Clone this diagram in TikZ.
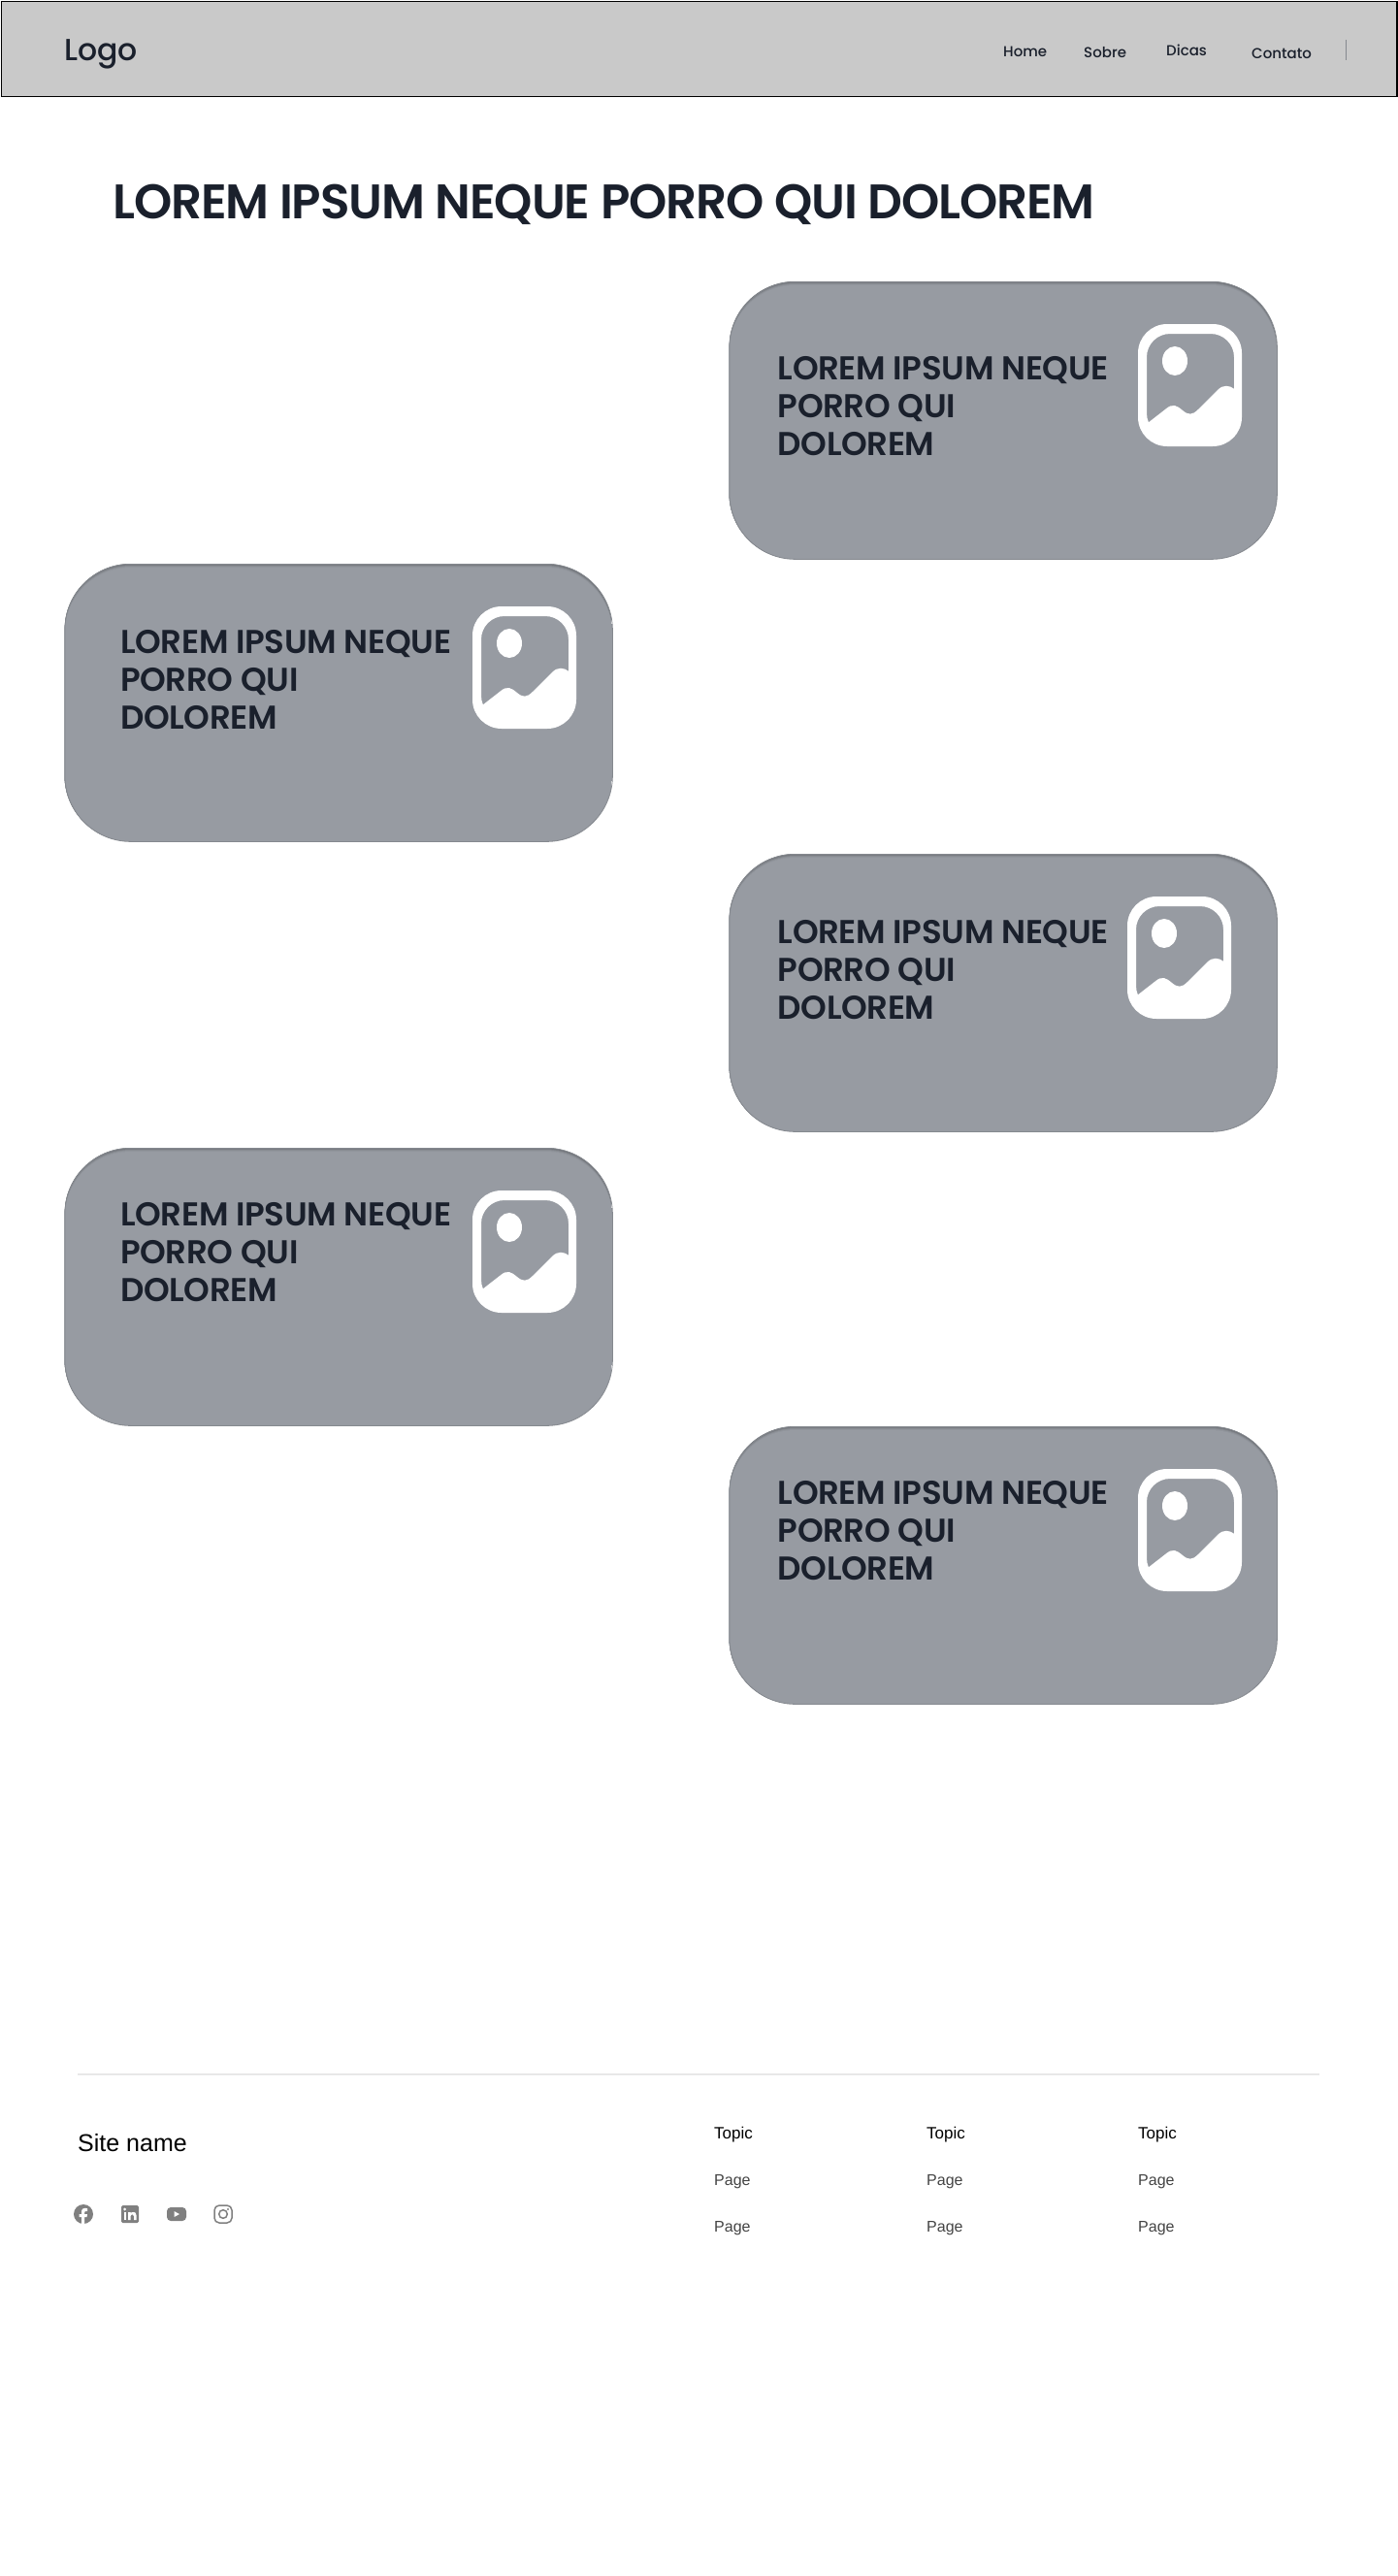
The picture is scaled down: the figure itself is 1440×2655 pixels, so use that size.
\documentclass[tikz,border=0pt]{standalone}
\usepackage{xcolor}
\usepackage{fontspec}
\usetikzlibrary{positioning}
\setmainfont{Liberation Sans}
\newfontfamily\titlefont[LetterSpace=-2.3]{Poppins SemiBold}
\newfontfamily\cardfont[LetterSpace=-1]{Poppins SemiBold}
\newfontfamily\navfont{Poppins Medium}
\definecolor{headgray}{HTML}{C9C9C9}
\definecolor{cardgray}{HTML}{979BA2}
\definecolor{cardline}{HTML}{85898F}
\definecolor{cardtop}{HTML}{66696E}
\definecolor{ink}{HTML}{1A202C}
\definecolor{rulegray}{HTML}{E8E8E8}
\definecolor{socialgray}{HTML}{808080}
\definecolor{pagegray}{HTML}{444444}
\tikzset{
  cardbox/.style={draw=cardline, line width=0.8pt, rounded corners=68pt,
    minimum width=564.5pt, minimum height=286pt, inner sep=0pt, anchor=north west},
  cardtext/.style={text=ink, inner sep=0pt, anchor=north west, align=left,
    font=\cardfont\fontsize{34}{39}\selectfont},
  navlink/.style={text=ink, inner sep=0pt, anchor=base west, font=\navfont\fontsize{15}{18}\selectfont},
  topic/.style={text=black, inner sep=0pt, anchor=base west, font=\fontsize{17}{19}\selectfont},
  pagelink/.style={text=pagegray, inner sep=0pt, anchor=base west, font=\fontsize{16}{18}\selectfont},
}
\begin{document}
\begin{tikzpicture}[x=1pt, y=-1pt]
\useasboundingbox (0,0) rectangle (1440,2655);
% header
\node (header) [draw=black, fill=headgray, line width=1.5pt, anchor=north west, inner sep=0pt,
  minimum width=1438.5pt, minimum height=97.8pt] at (0.75,0.75) {};
\node (logo) [text=ink, inner sep=0pt, anchor=base west, font=\navfont\fontsize{31.5}{34}\selectfont] at (66,63) {Logo};
\node (home) [navlink] at (1034,58.5) {Home};
\node (sobre) [navlink] at (1117,59.5) {Sobre};
\node (dicas) [navlink] at (1202,58) {Dicas};
\node (contato) [navlink] at (1290,60) {Contato};
\draw[cardline, line width=1pt] (1387,41) -- (1387,62);
% title
\node (title) [text=ink, inner sep=0pt, anchor=base west, font=\titlefont\fontsize{50}{54}\selectfont] at (116,225) {LOREM IPSUM NEQUE PORRO QUI DOLOREM};
% cards
\foreach \nm/\cx/\cy/\tx/\ty/\ix in {cardA/751.5/290/50/77/421.5, cardB/66.5/581/57.5/68/420.5, cardC/751.5/880/50/68/410.5, cardD/66.5/1183/57.5/56/420.5, cardE/751.5/1470/50/56/421.5} {
  \begin{scope}[shift={(\cx,\cy)}]
    \begin{scope}
      \clip[rounded corners=68pt] (0,0) rectangle (564.5,286);
      \fill[cardtop] (0,0) rectangle (564.5,286);
      % soft edge along the top
      \foreach \d/\m in {1/40, 2/70, 3/88, 4/100} {
        \fill[cardgray!\m!cardtop, rounded corners=68pt] (0,\d) rectangle (564.5,286+\d);
      }
    \end{scope}
    \node (\nm) [cardbox] at (0,0) {};
    \node (\nm text) [cardtext] at (\tx,\ty) {LOREM IPSUM NEQUE\\PORRO QUI\\DOLOREM};
    \begin{scope}[shift={(\ix,44)}]
      \fill[white, even odd rule, rounded corners=30pt] (0,0) rectangle (107,126)
        [rounded corners=24pt] (9,10) rectangle (99,116);
      \fill[white] (38,38) ellipse [x radius=13, y radius=15];
      \fill[white] (10,102) -- (28,88) .. controls (36,81) and (40,84) .. (46,89)
        .. controls (52,94) and (56,94) .. (62,88) -- (82,68)
        .. controls (88,62) and (94,63) .. (99.5,67) -- (99.5,116) -- (10,116) -- cycle;
    \end{scope}
  \end{scope}
}
% footer
\draw[rulegray, line width=1.2pt] (80,2138) -- (1360,2138);
\node (site) [inner sep=0pt, anchor=base west, font=\fontsize{25}{28}\selectfont] at (80,2217) {Site name};
\foreach \nm/\px in {one/736, two/955, three/1173} {
  \node (topic\nm) [topic] at (\px,2204) {Topic};
  \node (pageA\nm) [pagelink] at (\px,2252) {Page};
  \node (pageB\nm) [pagelink] at (\px,2300) {Page};
}
% social icons
\fill[socialgray] (86,2282) circle (10);
\fill[white] (84,2292) -- (84,2285) -- (81.5,2285) -- (81.5,2282) -- (84,2282) -- (84,2279.5)
  .. controls (84,2276.5) and (86,2275.5) .. (90,2276) -- (90,2279) .. controls (88,2279) and (87,2279) .. (87,2280.5)
  -- (87,2282) -- (90,2282) -- (89.5,2285) -- (87,2285) -- (87,2292) -- cycle;
\fill[socialgray, rounded corners=1.5pt] (125,2273) rectangle (143,2291);
\fill[white] (127.5,2280) rectangle (130,2288);
\fill[white] (128.7,2277) circle (1.5);
\fill[white] (132,2280) -- (134.5,2280) -- (134.5,2281) .. controls (136,2279.5) and (140.5,2279) .. (140.5,2283)
  -- (140.5,2288) -- (138,2288) -- (138,2284) .. controls (138,2281.5) and (134.5,2281.5) .. (134.5,2284) -- (134.5,2288) -- (132,2288) -- cycle;
\fill[socialgray, rounded corners=4pt] (172,2275) rectangle (192,2289);
\fill[white] (179.5,2279) -- (185,2282) -- (179.5,2285) -- cycle;
\draw[socialgray, line width=1.5pt, rounded corners=5pt] (221,2273) rectangle (239,2291);
\draw[socialgray, line width=1.5pt] (230,2282) circle (4.3);
\fill[socialgray] (235,2277) circle (1.2);
\end{tikzpicture}
\end{document}
